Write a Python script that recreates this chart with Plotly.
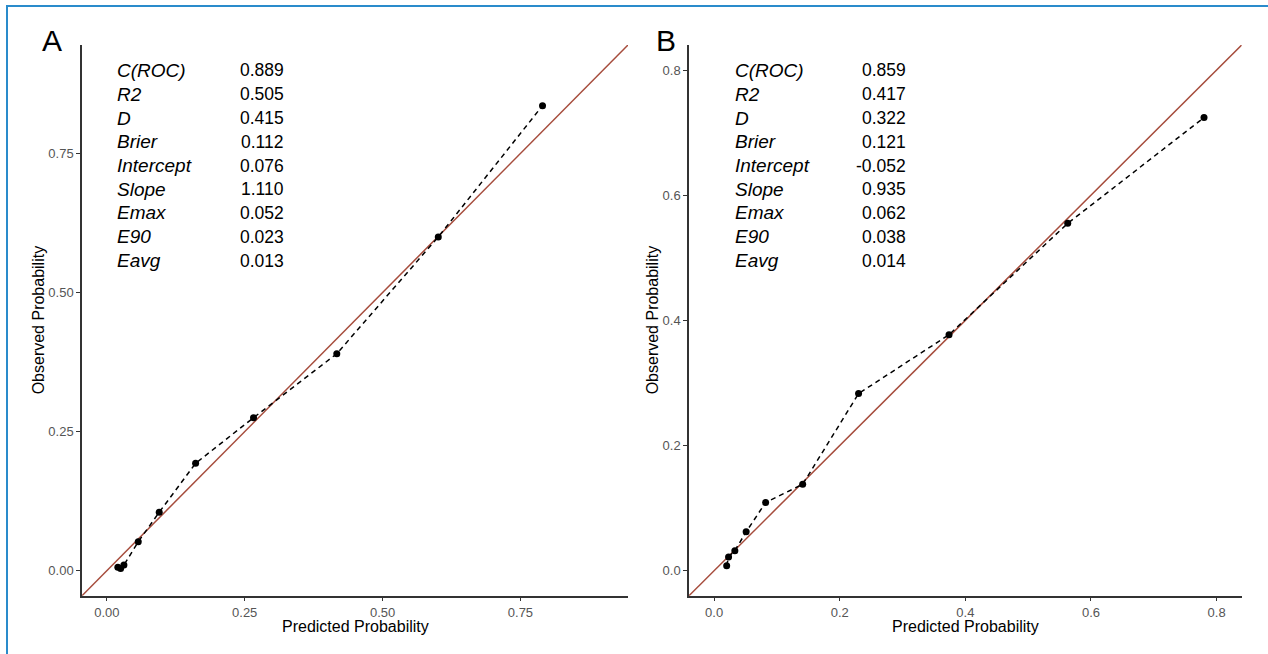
import plotly.graph_objects as go

# ---- data -----------------------------------------------------------------
pred_a = [0.020, 0.025, 0.031, 0.057, 0.095, 0.161, 0.266, 0.417, 0.601, 0.790]
obs_a = [0.006, 0.004, 0.010, 0.052, 0.105, 0.193, 0.275, 0.390, 0.600, 0.836]

pred_b = [0.020, 0.023, 0.033, 0.051, 0.082, 0.141, 0.230, 0.374, 0.563, 0.780]
obs_b = [0.008, 0.022, 0.032, 0.062, 0.109, 0.138, 0.283, 0.377, 0.555, 0.724]

stat_names = ["C(ROC)", "R2", "D", "Brier", "Intercept", "Slope", "Emax", "E90", "Eavg"]
stats_a = ["0.889", "0.505", "0.415", "0.112", "0.076", "1.110", "0.052", "0.023", "0.013"]
stats_b = ["0.859", "0.417", "0.322", "0.121", "-0.052", "0.935", "0.062", "0.038", "0.014"]

ticks_a = [0.0, 0.25, 0.5, 0.75]
ticklabels_a = ["0.00", "0.25", "0.50", "0.75"]
ticks_b = [0.0, 0.2, 0.4, 0.6, 0.8]
ticklabels_b = ["0.0", "0.2", "0.4", "0.6", "0.8"]

limits_a = [0.0, 0.9]
limits_b = [0.0, 0.8]

# ---- layout helpers -------------------------------------------------------
W, H = 1268, 654
FONT = "Liberation Sans, Arial, Helvetica, sans-serif"
REF_COLOR = "#A64C3C"
AXIS_COLOR = "#333333"


def px(x):
    return x / W


def py(y):
    return 1 - y / H


def expand(lim, frac=0.05):
    span = lim[1] - lim[0]
    return [lim[0] - frac * span, lim[1] + frac * span]


range_a = expand(limits_a)
range_b = expand(limits_b)

plot_top, plot_bottom = 45, 595.7
dom_a = [px(82), px(628)]
dom_b = [px(689), px(1241.7)]
dom_y = [py(plot_bottom), py(plot_top)]

fig = go.Figure()

# identity reference lines, spanning the full panel
fig.add_trace(go.Scatter(x=range_a, y=range_a, mode="lines",
                         line=dict(color=REF_COLOR, width=1.5),
                         xaxis="x", yaxis="y", hoverinfo="skip"))
fig.add_trace(go.Scatter(x=range_b, y=range_b, mode="lines",
                         line=dict(color=REF_COLOR, width=1.5),
                         xaxis="x2", yaxis="y2", hoverinfo="skip"))

# calibration points joined by a dashed line
fig.add_trace(go.Scatter(x=pred_a, y=obs_a, mode="lines+markers",
                         line=dict(color="black", width=1.5, dash="5px,4px"),
                         marker=dict(color="black", size=7),
                         xaxis="x", yaxis="y"))
fig.add_trace(go.Scatter(x=pred_b, y=obs_b, mode="lines+markers",
                         line=dict(color="black", width=1.5, dash="5px,4px"),
                         marker=dict(color="black", size=7),
                         xaxis="x2", yaxis="y2"))

axis_common = dict(
    showgrid=False, zeroline=False, showline=True, linecolor=AXIS_COLOR,
    linewidth=1.5, ticks="outside", ticklen=4, tickwidth=1.2,
    tickcolor=AXIS_COLOR, tickfont=dict(family=FONT, size=13, color="#555555"),
    mirror=False,
)

fig.update_layout(
    width=W, height=H,
    margin=dict(l=0, r=0, t=0, b=0),
    paper_bgcolor="white", plot_bgcolor="white",
    showlegend=False,
    xaxis=dict(domain=dom_a, range=range_a, tickvals=ticks_a,
               ticktext=ticklabels_a, anchor="y", **axis_common),
    yaxis=dict(domain=dom_y, range=range_a, tickvals=ticks_a,
               ticktext=ticklabels_a, anchor="x", **axis_common),
    xaxis2=dict(domain=dom_b, range=range_b, tickvals=ticks_b,
                ticktext=ticklabels_b, anchor="y2", **axis_common),
    yaxis2=dict(domain=dom_y, range=range_b, tickvals=ticks_b,
                ticktext=ticklabels_b, anchor="x2", **axis_common),
)

annotations = []

# axis titles
for cx, cy_title in [((82 + 628) / 2, 38), ((689 + 1241.7) / 2, 652)]:
    annotations.append(dict(
        x=px(cx), y=py(626), xref="paper", yref="paper",
        text="Predicted Probability", showarrow=False,
        font=dict(family=FONT, size=16, color="black"),
        xanchor="center", yanchor="middle"))
    annotations.append(dict(
        x=px(cy_title), y=py((plot_top + plot_bottom) / 2), xref="paper",
        yref="paper", text="Observed Probability", showarrow=False,
        textangle=-90, font=dict(family=FONT, size=16, color="black"),
        xanchor="center", yanchor="middle"))

# panel letters
for letter, lx in [("A", 52), ("B", 666)]:
    annotations.append(dict(
        x=px(lx), y=py(40), xref="paper", yref="paper", text=letter,
        showarrow=False, font=dict(family=FONT, size=30, color="black"),
        xanchor="center", yanchor="middle"))

# performance statistics
row_y0, row_step = 70.5, 23.75
for names_x, vals_x, vals in [(115, 286, stats_a), (733, 908, stats_b)]:
    for i, (name, val) in enumerate(zip(stat_names, vals)):
        yy = py(row_y0 + i * row_step)
        annotations.append(dict(
            x=px(names_x), y=yy, xref="paper", yref="paper",
            text=f"<i>{name}</i>", showarrow=False,
            font=dict(family=FONT, size=19, color="black"),
            xanchor="left", yanchor="middle"))
        annotations.append(dict(
            x=px(vals_x), y=yy, xref="paper", yref="paper",
            text=val, showarrow=False,
            font=dict(family=FONT, size=17.5, color="black"),
            xanchor="right", yanchor="middle"))

fig.update_layout(annotations=annotations)

# frame along the top and left edges
fig.update_layout(shapes=[
    dict(type="line", xref="paper", yref="paper", x0=px(6), x1=1,
         y0=py(6), y1=py(6), line=dict(color="#2A8BCB", width=2)),
    dict(type="line", xref="paper", yref="paper", x0=px(7), x1=px(7),
         y0=py(5), y1=0, line=dict(color="#2A8BCB", width=2)),
])

fig.write_html("out.html")
